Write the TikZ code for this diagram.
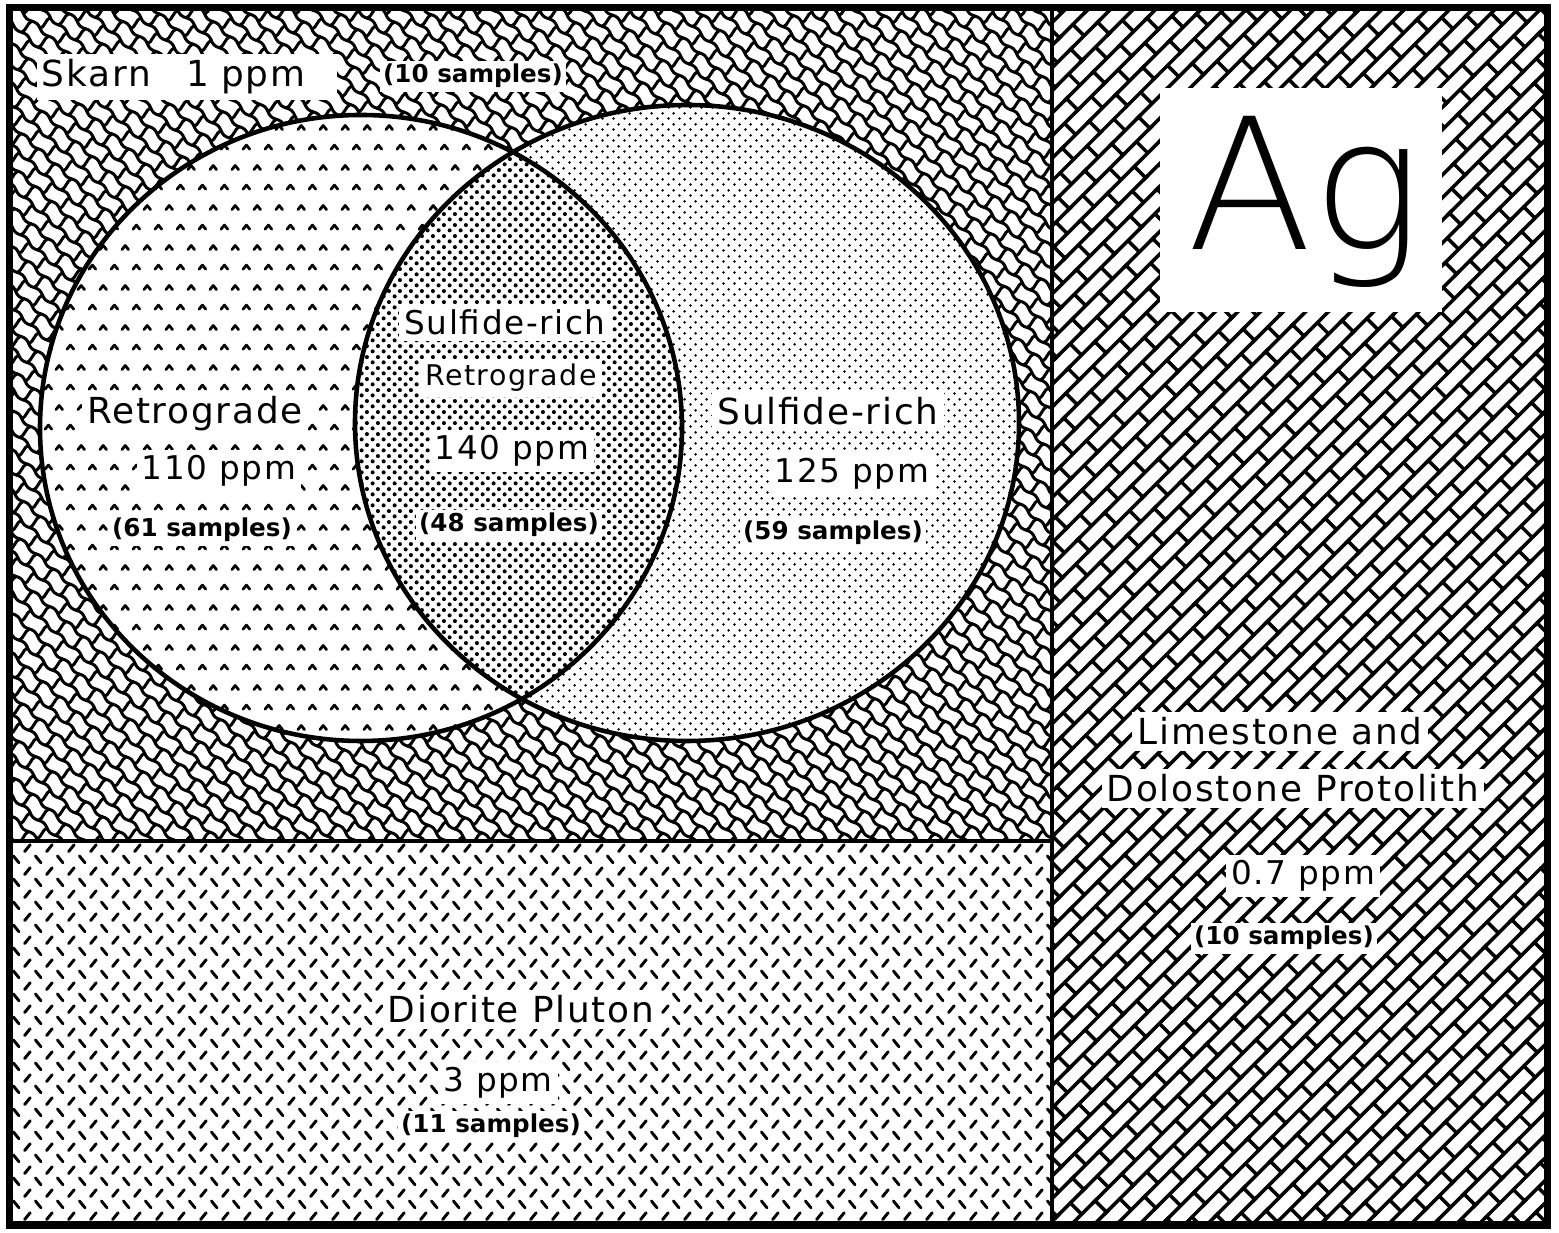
\documentclass[tikz,border=0pt]{standalone}
\usepackage{fontspec}
\setmainfont{DejaVu Sans}[LetterSpace=5]
\newfontfamily\countfont{DejaVu Sans}
\IfFontExistsTF{DejaVu Sans ExtraLight}
  {\newfontfamily\agfont{DejaVu Sans ExtraLight}}
  {\newfontfamily\agfont{DejaVu Sans}}
\usepackage{tikz}
\usetikzlibrary{patterns.meta}

% rock textures
\tikzdeclarepattern{
  name=skarnscale, type=uncolored,
  bottom left={(-1pt,-1pt)}, top right={(7.4pt,9.6pt)},
  tile size={(6.4pt,8.6pt)},
  tile transformation={rotate=-42},
  code={
    \tikzset{x=1pt,y=1pt}
    \draw[line width=0.85pt, line cap=round, line join=round]
      (0,0) sin (1.6,0.45) cos (3.2,0) sin (4.8,-0.45) cos (6.4,0)
      (0,4.3) sin (1.6,4.75) cos (3.2,4.3) sin (4.8,3.85) cos (6.4,4.3)
      (0,0) .. controls (0.6,1.5) and (-0.6,2.8) .. (0,4.3)
      (3.2,4.3) .. controls (3.8,5.8) and (2.6,7.1) .. (3.2,8.6);
  }
}
\tikzdeclarepattern{
  name=limebrick, type=uncolored,
  bottom left={(-1pt,-1pt)}, top right={(11.8pt,10.1pt)},
  tile size={(10.8pt,9.1pt)},
  tile transformation={rotate=45},
  code={
    \tikzset{x=1pt,y=1pt}
    \draw[line width=1pt, line cap=round]
      (-1,0) -- (11.8,0) (-1,4.55) -- (11.8,4.55)
      (0,0) -- (0,4.55) (5.4,4.55) -- (5.4,9.1);
  }
}
\tikzdeclarepattern{
  name=dioritedash, type=uncolored,
  bottom left={(0pt,0pt)}, top right={(6.2pt,6.6pt)},
  tile size={(6.2pt,6.6pt)},
  code={
    \tikzset{x=1pt,y=1pt}
    \draw[line width=0.85pt, line cap=round]
      (0.75,3.95) -- (2.35,5.95) (3.85,2.65) -- (5.45,0.65);
  }
}
\tikzdeclarepattern{
  name=retrocaret, type=uncolored,
  bottom left={(0pt,0pt)}, top right={(6.2pt,11.4pt)},
  tile size={(6.2pt,11.4pt)},
  code={
    \tikzset{x=1pt,y=1pt}
    \draw[line width=0.8pt, line join=round, line cap=round]
      (0.6,1.1) -- (1.55,2.3) -- (2.5,1.1)
      (3.7,6.8) -- (4.65,8.0) -- (5.6,6.8);
  }
}
\tikzdeclarepattern{
  name=sulfidedot, type=uncolored,
  bottom left={(0pt,0pt)}, top right={(3pt,3pt)},
  tile size={(3pt,3pt)},
  code={
    \fill (0.75pt,0.75pt) circle[radius=0.42pt] (2.25pt,2.25pt) circle[radius=0.42pt];
  }
}
\tikzdeclarepattern{
  name=mixdot, type=uncolored,
  bottom left={(0pt,0pt)}, top right={(3.2pt,3.2pt)},
  tile size={(3.2pt,3.2pt)},
  code={
    \fill (0.8pt,0.8pt) circle[radius=0.62pt] (2.4pt,2.4pt) circle[radius=0.62pt];
  }
}

\begin{document}
\begin{tikzpicture}[
    big label/.style={fill=white, inner sep=1.5pt, anchor=base, font=\fontsize{10.2}{12}\selectfont},
    mid label/.style={fill=white, inner sep=1.5pt, anchor=base, font=\fontsize{9.3}{11}\selectfont},
    small label/.style={fill=white, inner sep=1.5pt, anchor=base, font=\fontsize{8.1}{10}\selectfont},
    count label/.style={fill=white, inner sep=1pt, anchor=base, font=\countfont\bfseries\fontsize{7}{8}\selectfont},
    zone/.style={line width=1.3pt},
  ]
    \useasboundingbox (0,0) rectangle (15.59,12.33);
    \fill[white] (0,0) rectangle (15.59,12.33);

    % Corners of the panels
    \coordinate (nw) at (0.095,12.25);
    \coordinate (se) at (15.47,0.08);
    \coordinate (divtop) at (10.52,12.25);
    \coordinate (divbot) at (10.52,0.08);
    \coordinate (divleft) at (0.095,3.92);
    \coordinate (divmid) at (10.52,3.92);

    % Host rocks
    \fill[pattern=skarnscale] (divleft) rectangle (divtop);
    \fill[pattern=dioritedash] (0.095,0.08) rectangle (divmid);
    \fill[pattern=limebrick] (divbot) rectangle (15.47,12.25);

    % Retrograde and sulfide-rich skarn
    \path[preaction={fill=white}, pattern=retrocaret] (3.61,8.05) ellipse [x radius=3.21, y radius=3.13];
    \path[preaction={fill=white}, pattern=sulfidedot] (6.87,8.10) ellipse [x radius=3.32, y radius=3.18];
    \begin{scope}
        \clip (3.61,8.05) ellipse [x radius=3.21, y radius=3.13];
        \path[preaction={fill=white}, pattern=mixdot] (6.87,8.10) ellipse [x radius=3.32, y radius=3.18];
    \end{scope}
    \draw[zone] (3.61,8.05) ellipse [x radius=3.21, y radius=3.13];
    \draw[zone] (6.87,8.10) ellipse [x radius=3.32, y radius=3.18];

    % Frame and dividers
    \draw[line width=1.4pt] (divtop) -- (divbot);
    \draw[line width=1.4pt] (divleft) -- (divmid);
    \draw[line width=2pt] (nw) rectangle (se);

    % Element box
    \node[fill=white, minimum width=2.82cm, minimum height=2.24cm, inner sep=0pt] (agbox) at (13.01,10.33) {};
    \node[anchor=base, font=\agfont\fontsize{52}{60}\selectfont] (ag) at (13.05,9.83) {Ag};

    % Skarn
    \node[big label, anchor=base west, text width=2.9cm, align=left] (skarn) at (0.36,11.46) {Skarn\quad 1 ppm};
    \node[count label] (skarnn) at (4.73,11.50) {(10 samples)};

    % Retrograde
    \node[big label] (retro) at (1.95,8.09) {Retrograde};
    \node[mid label] (retroppm) at (2.19,7.53) {110 ppm};
    \node[count label] (retron) at (2.02,6.96) {(61 samples)};

    % Overlap
    \node[mid label] (mixsul) at (5.05,8.98) {Sulfide-rich};
    \node[small label] (mixret) at (5.11,8.47) {Retrograde};
    \node[mid label] (mixppm) at (5.12,7.73) {140 ppm};
    \node[count label] (mixn) at (5.09,7.01) {(48 samples)};

    % Sulfide-rich
    \node[big label] (sulf) at (8.28,8.08) {Sulfide-rich};
    \node[mid label] (sulfppm) at (8.52,7.50) {125 ppm};
    \node[count label] (sulfn) at (8.33,6.93) {(59 samples)};

    % Protolith
    \node[big label] (lime) at (12.80,4.88) {Limestone and};
    \node[big label] (dolo) at (12.93,4.31) {Dolostone Protolith};
    \node[mid label] (limeppm) at (13.03,3.48) {0.7 ppm};
    \node[count label] (limen) at (12.84,2.88) {(10 samples)};

    % Pluton
    \node[big label] (dio) at (5.21,2.10) {Diorite Pluton};
    \node[mid label] (dioppm) at (4.98,1.41) {3 ppm};
    \node[count label] (dion) at (4.91,1.00) {(11 samples)};
\end{tikzpicture}
\end{document}
